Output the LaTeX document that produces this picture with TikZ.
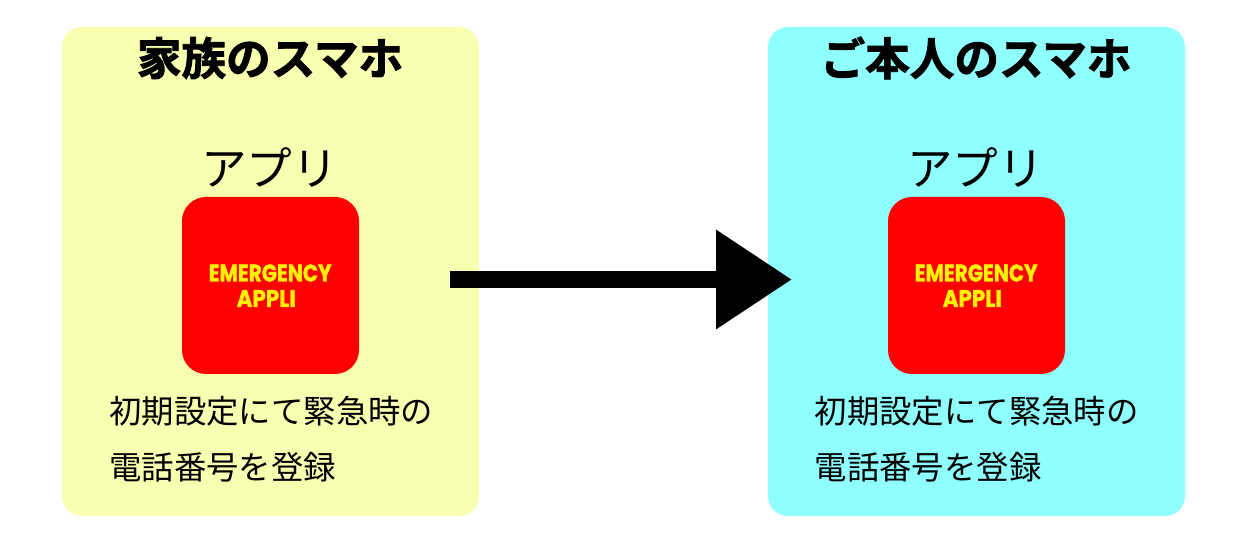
\documentclass[tikz,border=0pt]{standalone}
\usepackage{fontspec}
\newfontfamily\cjk{Noto Sans CJK JP}
\newfontfamily\cjkb[FakeBold=2]{Noto Sans CJK JP Bold}
\newfontfamily\applifont[FakeBold=1.5]{Poppins Bold}
\usetikzlibrary{arrows.meta}
\definecolor{famyellow}{RGB}{249,255,176}
\definecolor{usercyan}{RGB}{143,255,255}
\tikzset{
	phonebox/.style={rounded corners=20pt, minimum width=417pt, minimum height=489pt, inner sep=0pt},
	appbox/.style={fill=red, rounded corners=24pt, minimum width=177pt, minimum height=177pt, inner sep=0pt},
	headlabel/.style={font=\cjkb\fontsize{44.6}{44.6}\selectfont, inner sep=0pt},
	applabel/.style={font=\cjk\fontsize{45.6}{45.6}\selectfont, inner sep=0pt},
	notelabel/.style={font=\cjk\fontsize{32.4}{32.4}\selectfont, anchor=west, inner sep=0pt},
	logolabel/.style={font=\applifont\fontsize{20}{20}\selectfont, text=yellow, anchor=west, inner sep=0pt, yscale=1.2}
}
\begin{document}
\begin{tikzpicture}[x=1pt,y=1pt]
	\useasboundingbox (0, 0) rectangle (1247, 543);

	% family phone
	\node[phonebox, fill=famyellow] (famphone) at (270.5, 271.5) {};
	\node[headlabel] (famhead) at (270, 485) {家族のスマホ};
	\node[applabel] (famapp) at (269.5, 376) {アプリ};
	\node[appbox] (famicon) at (270.5, 257.5) {};
	\node[logolabel] (famlogoa) at (208.5, 270) {EMERGENCY};
	\node[logolabel, xscale=1.07] (famlogob) at (236.5, 244.5) {APPLI};
	\node[notelabel] (famnotea) at (109, 132) {初期設定にて緊急時の};
	\node[notelabel] (famnoteb) at (109, 76) {電話番号を登録};

	% user phone
	\node[phonebox, fill=usercyan] (userphone) at (976.5, 271.5) {};
	\node[headlabel] (userhead) at (976, 485) {ご本人のスマホ};
	\node[applabel] (userapp) at (975.5, 376) {アプリ};
	\node[appbox] (usericon) at (976.5, 257.5) {};
	\node[logolabel] (userlogoa) at (914.5, 270) {EMERGENCY};
	\node[logolabel, xscale=1.07] (userlogob) at (942.5, 244.5) {APPLI};
	\node[notelabel] (usernotea) at (814.5, 132) {初期設定にて緊急時の};
	\node[notelabel] (usernoteb) at (814.5, 76) {電話番号を登録};

	% arrow
	\coordinate (arrowstart) at (450, 263.5);
	\coordinate (arrowend) at (792, 263.5);
	\draw[line width=17pt, -{Triangle[length=76pt, width=95pt, sep=0pt]}] (arrowstart) -- (arrowend);
\end{tikzpicture}
\end{document}
